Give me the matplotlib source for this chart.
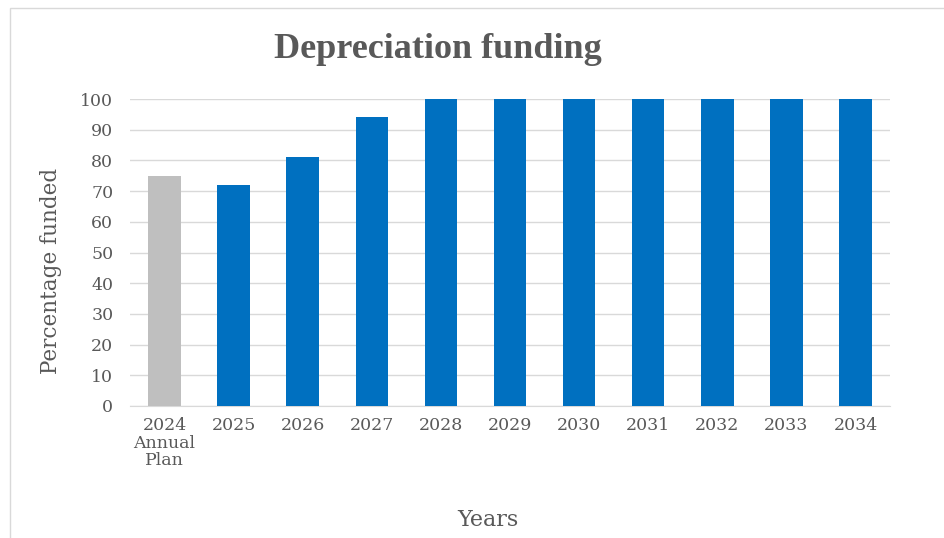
import matplotlib.pyplot as plt
from matplotlib.patches import Rectangle

# datos
years = ['2024\nAnnual\nPlan', '2025', '2026', '2027', '2028', '2029',
         '2030', '2031', '2032', '2033', '2034']
funded = [75, 72, 81, 94, 100, 100, 100, 100, 100, 100, 100]
bar_colors = ['#BFBFBF'] + ['#0070C0'] * 10

TEXT = '#595959'
plt.rcParams['font.family'] = ['DejaVu Serif']

fig = plt.figure(figsize=(9.45, 5.38), dpi=100)
ax = fig.add_axes([130/945, 1 - 406/538, 760/945, 307/538])

x = range(len(years))
ax.bar(x, funded, width=0.47, color=bar_colors, zorder=3)

ax.set_xlim(-0.5, len(years) - 0.5)
ax.set_ylim(0, 100)
ax.set_yticks(range(0, 101, 10))
ax.set_xticks(list(x))
ax.set_xticklabels(years, linespacing=1.05, va='top')
ax.tick_params(axis='both', length=0, colors=TEXT, labelsize=12.5)
ax.tick_params(axis='x', pad=8)
ax.tick_params(axis='y', pad=12)

ax.grid(axis='y', color='#D9D9D9', lw=1, zorder=0)
for s in ['top', 'right', 'left']:
    ax.spines[s].set_visible(False)
ax.spines['bottom'].set_color('#D9D9D9')

fig.text(438/945, 1 - 49/538, 'Depreciation funding', ha='center', va='center',
         fontsize=26, fontweight='bold', color=TEXT,
         family=['Liberation Serif'])
fig.text(51/945, 1 - 271/538, 'Percentage funded', rotation=90, ha='center',
         va='center', fontsize=15.5, color=TEXT)
fig.text(488/945, 1 - 520/538, 'Years', ha='center', va='center',
         fontsize=16, color=TEXT)

# borde del area del grafico
fig.patches.append(Rectangle((10/945, -0.01), 1.0, 1 - 8/538 + 0.01,
                             transform=fig.transFigure, fill=False,
                             ec='#D9D9D9', lw=1))

fig.savefig('out.png', dpi=100)
